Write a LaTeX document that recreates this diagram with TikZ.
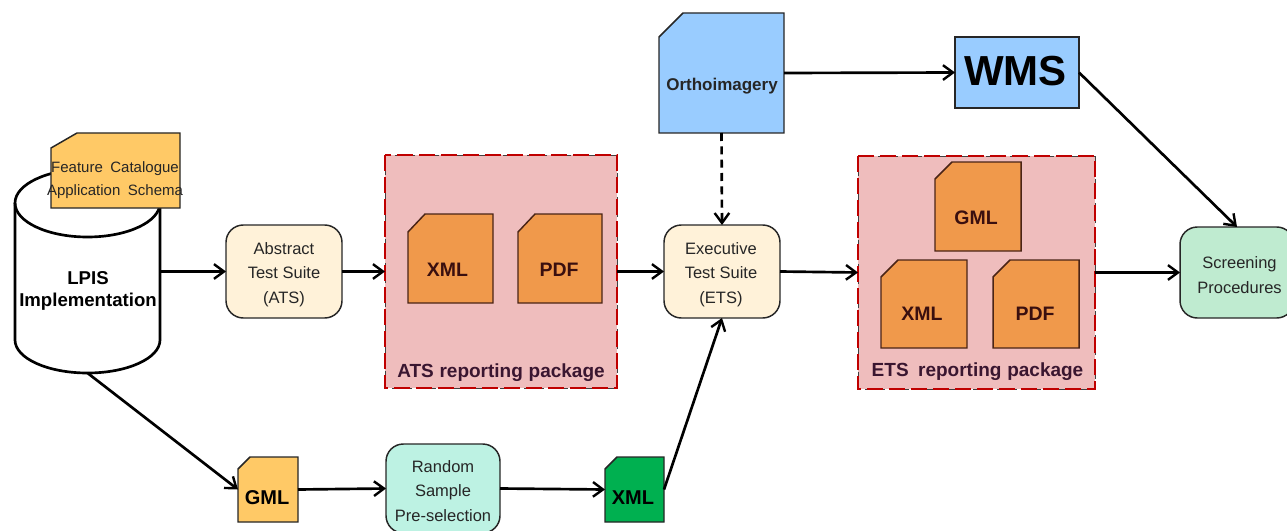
\documentclass[tikz,border=0pt]{standalone}
\usepackage{fontspec}
\setmainfont{Liberation Sans}
\usetikzlibrary{arrows.meta}
\newcommand{\fpx}[1]{\fontsize{\dimexpr #1pt*3/4\relax}{\dimexpr #1pt*3/4\relax}\selectfont}
% outline of a card with a cut corner, drawn round a named node: node, cut x, cut y, style
\newcommand{\cardoutline}[4]{\draw[#4] ([xshift=#2*0.75pt]#1.north west) -- (#1.north east)
  -- (#1.south east) -- (#1.south west) -- ([yshift=-#3*0.75pt]#1.north west) -- cycle;}
\definecolor{edgeink}{HTML}{262626}
\definecolor{cardyellow}{HTML}{FFC966}
\definecolor{cardorange}{HTML}{F0994B}
\definecolor{cardedge}{HTML}{4A2416}
\definecolor{cardblue}{HTML}{99CCFF}
\definecolor{cardgreen}{HTML}{00B050}
\definecolor{boxcream}{HTML}{FFF2D9}
\definecolor{boxmint}{HTML}{BDF2E3}
\definecolor{boxgreen}{HTML}{BFEBD0}
\definecolor{pkgfill}{HTML}{EFBDBD}
\definecolor{pkgedge}{HTML}{C00000}
\definecolor{pkgtext}{HTML}{3A1630}
\definecolor{cardtext}{HTML}{3A0F0F}
\tikzset{
  x=0.75pt,y=-0.75pt,
  every node/.style={inner sep=0pt,outer sep=0pt,align=center},
  sized/.style args={#1x#2}{rectangle,minimum width=#1*0.75pt,minimum height=#2*0.75pt},
  card/.style={draw=edgeink,line width=1.1pt},
  orangecard/.style={card,draw=cardedge,fill=cardorange},
  roundbox/.style={rectangle,rounded corners=13pt,draw=edgeink,line width=1.1pt},
  pkg/.style={rectangle,fill=pkgfill},
  pkgunder/.style={draw=black!75,line width=0.7pt,dash pattern=on 6pt off 3pt},
  pkgline/.style={draw=pkgedge,line width=2.1pt,dash pattern=on 12pt off 4.5pt},
  conn/.style={line width=2pt,black,-{Straight Barb[length=7.5pt,width=11pt,line width=1.8pt]}},
  cyl/.style={line width=2pt,black},
  boxtext/.style={font=\fpx{16.5},text=black!85},
  boldtext/.style={font=\fpx{20}\bfseries,text=black},
  orangetext/.style={font=\fpx{19.5}\bfseries,text=cardtext},
  pkgtitle/.style={font=\fpx{19}\bfseries,text=pkgtext},
}
\begin{document}
\begin{tikzpicture}
\useasboundingbox (0,0) rectangle (1287,531);
\clip (0,0) rectangle (1287,531);

% database
\node[sized=145x203] (lpis) at (87.5,271.5) {};
\draw[cyl,fill=white] (15,203) arc[start angle=180,end angle=360,x radius=72.5,y radius=34]
  -- (160,340) arc[start angle=0,end angle=180,x radius=72.5,y radius=33] -- cycle;
\draw[cyl] (15,203) arc[start angle=180,end angle=0,x radius=72.5,y radius=34];
\node[font=\fpx{18.6}\bfseries,text=black] (lpistext) at (88,291) {LPIS\\[2.5pt]Implementation};
\node[sized=129x75] (fc) at (115.5,170.5) {};
\cardoutline{fc}{26}{15}{card,fill=cardyellow}
\node[font=\fpx{15},text=black!85] (fctext) at (115,180.5) {Feature\hspace{0.5em}Catalogue\\[6pt]Application\hspace{0.5em}Schema};

% rounded boxes
\node[roundbox,fill=boxcream,sized=116x93] (ats) at (284,271.5) {};
\node[boxtext] (atstext) at (284,274.5) {Abstract\\[6pt]Test Suite\\[6pt](ATS)};
\node[roundbox,fill=boxcream,sized=116x93] (ets) at (722,271.5) {};
\node[boxtext] (etstext) at (721,274.5) {Executive\\[6pt]Test Suite\\[6pt](ETS)};
\node[roundbox,fill=boxgreen,sized=114x91] (scr) at (1237,272.5) {};
\node[boxtext] (scrtext) at (1239.5,275) {Screening\\[6pt]Procedures};
\node[roundbox,fill=boxmint,sized=114x89] (rnd) at (443,488.5) {};
\node[boxtext] (rndtext) at (443,491) {Random\\[6pt]Sample\\[6pt]Pre-selection};

% ATS package
\node[pkg,sized=232x233] (atspkg) at (501,271.5) {};
\draw[pkgunder] (atspkg.north west) rectangle (atspkg.south east);
\draw[pkgline] (atspkg.north west) rectangle (atspkg.south east);
\node[sized=85x89] (atsxml) at (450.5,258.5) {};
\cardoutline{atsxml}{17}{18}{orangecard}
\node[orangetext] (atsxmlt) at (447.5,270) {XML};
\node[sized=84x89] (atspdf) at (560,258.5) {};
\cardoutline{atspdf}{17}{18}{orangecard}
\node[orangetext] (atspdft) at (559,270) {PDF};
\node[pkgtitle] (atstitle) at (501,372.5) {ATS\hspace{0.3em}reporting\hspace{0.3em}package};

% ETS package
\node[pkg,sized=237x233] (etspkg) at (976.5,272.5) {};
\draw[pkgunder] (etspkg.north west) rectangle (etspkg.south east);
\draw[pkgline] (etspkg.north west) rectangle (etspkg.south east);
\node[sized=86x89] (etsgml) at (978,206.5) {};
\cardoutline{etsgml}{17}{17}{orangecard}
\node[orangetext] (etsgmlt) at (976,218) {GML};
\node[sized=86x88] (etsxml) at (924,304) {};
\cardoutline{etsxml}{17}{17}{orangecard}
\node[orangetext] (etsxmlt) at (922,314) {XML};
\node[sized=86x88] (etspdf) at (1036,304) {};
\cardoutline{etspdf}{17}{17}{orangecard}
\node[orangetext] (etspdft) at (1035,314) {PDF};
\node[pkgtitle] (etstitle) at (977.5,372) {ETS\hspace{0.5em}reporting\hspace{0.3em}package};

% ortho and WMS
\node[sized=125x120] (ortho) at (721.5,73) {};
\cardoutline{ortho}{24}{24}{card,fill=cardblue}
\node[font=\fpx{17}\bfseries,text=black!85] (orthot) at (722,86.5) {Orthoimagery};
\node[sized=124x71,draw=edgeink,line width=1.1pt,fill=cardblue] (wms) at (1017,72.5) {};
\node[font=\fpx{42}\bfseries,text=black] (wmst) at (1015.5,71) {WMS};

% lower row
\node[sized=60x65] (gml) at (268,489.5) {};
\cardoutline{gml}{12}{12}{card,fill=cardyellow}
\node[boldtext] (gmlt) at (267,498) {GML};
\node[sized=59x65] (xml) at (634.5,489.5) {};
\cardoutline{xml}{12}{12}{card,fill=cardgreen}
\node[boldtext] (xmlt) at (633,498) {XML};

% connectors
\draw[conn] (lpis.east) -- (ats.west);
\draw[conn] (ats.east) -- (atspkg.west);
\draw[conn] (atspkg.east) -- (ets.west);
\draw[conn] (ets.east) -- (etspkg.west);
\draw[conn] (etspkg.east) -- (scr.west);
\draw[conn] (ortho.east) -- (wms.west);
\draw[conn] (wms.east) -- (scr.north);
\draw[conn,dash pattern=on 6pt off 4pt] (ortho.south) -- (ets.north);
\draw[conn] (lpis.south) -- (gml.west);
\draw[conn] (gml.east) -- (rnd.west);
\draw[conn] (rnd.east) -- (xml.west);
\draw[conn] (xml.east) -- (ets.south);
\end{tikzpicture}
\end{document}
